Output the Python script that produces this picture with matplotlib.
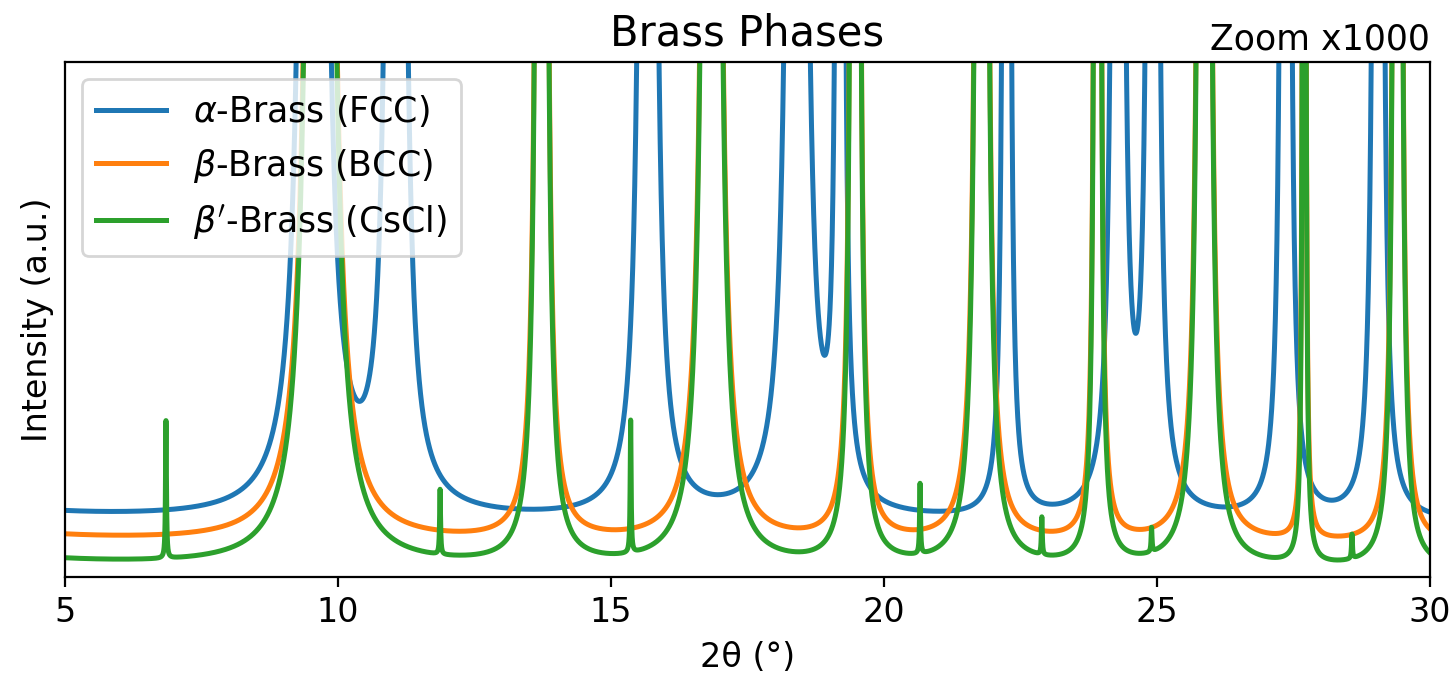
import numpy as np
import matplotlib
matplotlib.use("Agg")
import matplotlib.pyplot as plt

# peak positions (2theta, deg) and heights (a.u., strongest ~100)
fcc_pos = [9.555, 11.06, 15.675, 18.405, 19.20, 22.245, 24.285, 24.925, 27.355, 29.05]
fcc_int = [90, 45, 37, 52, 9.5, 7.9, 19.5, 17.5, 13.6, 14.5]

bcc_pos = [9.675, 13.73, 16.84, 19.475, 21.79, 23.91, 25.865, 27.695, 29.405]
bcc_int = [92, 18, 44.5, 12, 20.7, 5.9, 22.3, 1.5, 10.3]

# superlattice reflections of the ordered CsCl phase
sl_pos = [6.85, 11.87, 15.36, 20.66, 22.89, 24.90, 28.57]
sl_int = [0.0267, 0.0126, 0.0257, 0.0136, 0.0073, 0.0047, 0.0047]

offsets = [0.0105, 0.0061, 0.00145]
bg_low = 0.0018   # low angle background at 5 deg
labels = [r'$\alpha$-Brass (FCC)', r'$\beta$-Brass (BCC)', r"$\beta'$-Brass (CsCl)"]

hwhm = 0.01
x = np.linspace(5, 30, 25001)


def lorentz_sum(pos, inten):
    y = np.zeros_like(x)
    for p, h in zip(pos, inten):
        y += h * hwhm**2 / ((x - p)**2 + hwhm**2)
    return y


bg = bg_low * (5 / x)**2
fcc = lorentz_sum(fcc_pos, fcc_int)
bcc = lorentz_sum(bcc_pos, bcc_int)
cscl = bcc + lorentz_sum(sl_pos, sl_int)

fig = plt.figure(figsize=(7.265, 3.44), dpi=200)
ax = fig.add_axes([0.0447, 0.1613, 0.9395, 0.7486])

for y, off, lab, c in zip([fcc, bcc, cscl], offsets, labels, ['C0', 'C1', 'C2']):
    ax.plot(x, y + bg + off, color=c, lw=1.8, label=lab)

ymax = 100 / 1000
ax.set_xlim(5, 30)
ax.set_ylim(0, ymax)
ax.set_yticks([])
ax.tick_params(axis='x', labelsize=12)
ax.set_xlabel('2θ (°)', fontsize=12)
ax.set_ylabel('Intensity (a.u.)', fontsize=12)
ax.set_title('Brass Phases', fontsize=15)
ax.annotate('Zoom x1000', xy=(1, 1), xycoords='axes fraction', xytext=(0, 2),
            textcoords='offset points', ha='right', va='bottom', fontsize=12.5)
ax.legend(loc='upper left', fontsize=12.5)

fig.savefig('out.png', dpi=200)
